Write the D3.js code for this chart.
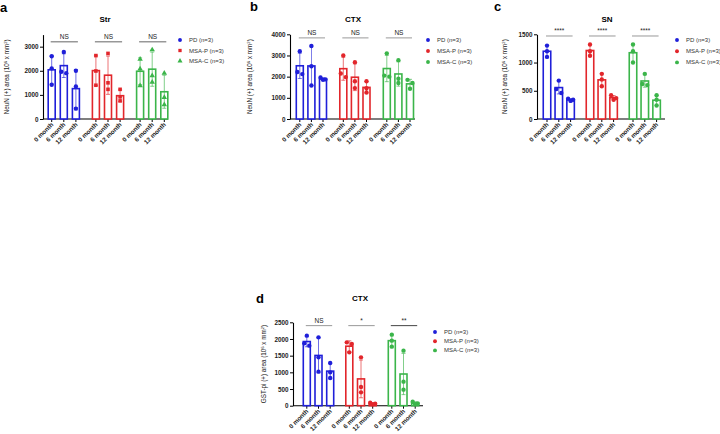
<!DOCTYPE html>
<html>
<head>
<meta charset="utf-8">
<script src="https://cdn.jsdelivr.net/npm/d3@7"></script>
<style>
  body { margin: 0; background: #fff; }
  svg { font-family: "Liberation Sans", Arial, sans-serif; }
</style>
</head>
<body>
<svg id="chart" width="720" height="434"></svg>
<script>
// groups / x categories
var groups = ["PD (n=3)", "MSA-P (n=3)", "MSA-C (n=3)"];
var months = ["0 month", "6 month", "12 month"];
var colors = ["#1f1fd9", "#e2262b", "#3bb54a"];

// individual values per group, per month (n=3)
var strValues = [
  [[2600, 2100, 1420], [2780, 1960, 1900], [2000, 1350, 430]],
  [[2630, 1990, 1400], [2720, 1500, 1230], [1230, 920, 750]],
  [[2480, 2080, 1380], [2870, 1800, 1530], [1900, 900, 590]]
];
var ctxValues = [
  [[3200, 2220, 2120], [3450, 2490, 1580], [1960, 1870, 1850]],
  [[3000, 2150, 1980], [2680, 1780, 1460], [1780, 1450, 1250]],
  [[3100, 2050, 2000], [2780, 1900, 1700], [1850, 1700, 1430]]
];
var snValues = [
  [[1300, 1200, 1100], [680, 530, 460], [360, 340, 320]],
  [[1320, 1200, 1120], [800, 700, 580], [420, 370, 340]],
  [[1320, 1200, 1000], [800, 620, 600], [420, 340, 240]]
];
var gstValues = [
  [[2100, 1870, 1800], [2050, 1450, 1020], [1280, 1000, 830]],
  [[1900, 1850, 1600], [1450, 560, 400], [90, 60, 40]],
  [[2130, 1950, 1770], [1650, 720, 480], [120, 70, 40]]
];
var strSig = ["NS", "NS", "NS"];
var ctxSig = ["NS", "NS", "NS"];
var snSig = ["****", "****", "****"];
var gstSig = ["NS", "*", "**"];

var svg = d3.select("#chart");

function stats(v) {
  return { mean: d3.mean(v), sd: d3.deviation(v) };
}

function drawPanel(cfg) {
  var g = svg.append("g");

  var y = d3.scaleLinear().domain([0, cfg.yMax]).range([cfg.baseY, cfg.topY]);

  // outer band for groups, inner band for months
  var start = cfg.x0 - cfg.step / 2;
  var gx = d3.scaleBand()
      .domain(groups)
      .range([start, start + 2 * cfg.gStep + 3 * cfg.step])
      .paddingInner((cfg.gStep - 3 * cfg.step) / cfg.gStep)
      .paddingOuter(0);
  var mx = d3.scaleBand().domain(months).range([0, gx.bandwidth()]);
  function cx(gi, mi) { return gx(groups[gi]) + mx(months[mi]) + mx.bandwidth() / 2; }

  // panel letter + title
  g.append("text").attr("x", cfg.letter[0]).attr("y", cfg.letter[1])
      .attr("font-size", 13).attr("font-weight", "bold").text(cfg.letterText);
  g.append("text").attr("x", cfg.title[0]).attr("y", cfg.title[1])
      .attr("text-anchor", "middle").attr("font-size", 8).attr("font-weight", "bold")
      .text(cfg.titleText);

  // y label
  var yl = g.append("text")
      .attr("transform", "translate(" + cfg.yLabelX + "," + ((cfg.baseY + cfg.topY) / 2) + ") rotate(-90)")
      .attr("text-anchor", "middle").attr("font-size", 6.3).attr("fill", "#222");
  yl.append("tspan").text(cfg.yLabel + " area (10");
  yl.append("tspan").attr("font-size", 4.2).attr("dy", -2.5).text("6");
  yl.append("tspan").attr("dy", 2.5).text(" x mm");
  yl.append("tspan").attr("font-size", 4.2).attr("dy", -2.5).text("2");
  yl.append("tspan").attr("dy", 2.5).text(")");

  // y axis
  var ya = g.append("g")
      .attr("transform", "translate(" + cfg.axisX + ",0)")
      .call(d3.axisLeft(y).tickValues(cfg.ticks).tickSize(3).tickSizeOuter(0).tickPadding(1.5)
        .tickFormat(d3.format("d")));
  ya.select(".domain").attr("stroke-width", 1.1);
  ya.selectAll("text").attr("font-size", 6.3).attr("font-weight", "bold").attr("fill", "#222")
      .attr("font-family", "Liberation Sans, Arial, sans-serif");

  // x axis line + ticks + rotated labels
  g.append("line").attr("x1", cfg.axisX).attr("x2", cfg.axisEnd)
      .attr("y1", cfg.baseY).attr("y2", cfg.baseY).attr("stroke", "#000").attr("stroke-width", 1.1);

  cfg.data.forEach(function(grp, gi) {
    grp.forEach(function(vals, mi) {
      var c = cx(gi, mi);
      g.append("line").attr("x1", c).attr("x2", c).attr("y1", cfg.baseY).attr("y2", cfg.baseY + 3)
          .attr("stroke", "#000").attr("stroke-width", 1);
      g.append("text")
          .attr("transform", "translate(" + (c + 2) + "," + (cfg.baseY + 6) + ") rotate(-45)")
          .attr("text-anchor", "end").attr("font-size", 6.3).attr("font-weight", "bold")
          .attr("fill", "#222").text(months[mi]);
    });
  });

  // bars, error bars, points
  var bw = cfg.barW;
  cfg.data.forEach(function(grp, gi) {
    var col = colors[gi];
    var shape = cfg.shapes[gi];
    grp.forEach(function(vals, mi) {
      var s = stats(vals);
      var c = cx(gi, mi);
      g.append("rect")
          .attr("x", c - bw / 2).attr("y", y(s.mean))
          .attr("width", bw).attr("height", cfg.baseY - y(s.mean))
          .attr("fill", "#fff").attr("stroke", col).attr("stroke-width", 1.6);

      var lo = Math.max(0, s.mean - s.sd), hi = s.mean + s.sd;
      g.append("line").attr("x1", c).attr("x2", c).attr("y1", y(lo)).attr("y2", y(hi))
          .attr("stroke", col).attr("stroke-width", 0.8).attr("opacity", 0.8);
      [lo, hi].forEach(function(v) {
        g.append("line").attr("x1", c - 2).attr("x2", c + 2).attr("y1", y(v)).attr("y2", y(v))
            .attr("stroke", col).attr("stroke-width", 0.8).attr("opacity", 0.8);
      });

      // dodge points that sit on top of each other
      var off = [0, 0, 0];
      for (var i = 0; i < vals.length; i++) {
        for (var j = i + 1; j < vals.length; j++) {
          if (Math.abs(y(vals[i]) - y(vals[j])) < 4 && off[i] === 0 && off[j] === 0) {
            off[i] = -2.5; off[j] = 2.5;
          }
        }
      }
      vals.forEach(function(v, k) {
        g.append("path")
            .attr("transform", "translate(" + (c + off[k]) + "," + y(v) + ")")
            .attr("d", d3.symbol().type(shape).size(shape === d3.symbolCircle ? 15 : 13)())
            .attr("fill", col);
      });
    });

    // significance bar per group
    var x1 = cx(gi, 0) - 1, x2 = cx(gi, 2) + 2;
    var ly = y(cfg.sigLevel);
    g.append("line").attr("x1", x1).attr("x2", x2).attr("y1", ly).attr("y2", ly)
        .attr("stroke", cfg.sigColor[gi]).attr("stroke-width", 1);
    g.append("text").attr("x", (x1 + x2) / 2).attr("y", ly - 2.5)
        .attr("text-anchor", "middle").attr("font-size", 6.5).attr("fill", "#222")
        .text(cfg.sig[gi]);
  });

  // legend
  groups.forEach(function(name, gi) {
    var ly = cfg.legend[1] + gi * cfg.legendGap;
    var shape = cfg.shapes[gi];
    g.append("path")
        .attr("transform", "translate(" + cfg.legend[0] + "," + ly + ")")
        .attr("d", d3.symbol().type(shape).size(shape === d3.symbolCircle ? 12 : 11)())
        .attr("fill", colors[gi]);
    g.append("text").attr("x", cfg.legend[0] + 9).attr("y", ly + 2)
        .attr("font-size", 6).attr("fill", "#333").text(name);
  });
}

var circles = [d3.symbolCircle, d3.symbolCircle, d3.symbolCircle];

drawPanel({
  data: strValues, sig: strSig, letterText: "a", titleText: "Str", yLabel: "NeuN (+)",
  axisX: 43, axisEnd: 168, baseY: 119, topY: 34.6, yMax: 3500, ticks: [0, 1000, 2000, 3000],
  x0: 51.7, step: 12.1, gStep: 44.2, barW: 7,
  letter: [0, 12], title: [105, 22], yLabelX: 9,
  legend: [180, 40], legendGap: 10.5, sigLevel: 3200, sigColor: ["#666", "#666", "#666"],
  shapes: [d3.symbolCircle, d3.symbolSquare, d3.symbolTriangle]
});

drawPanel({
  data: ctxValues, sig: ctxSig, letterText: "b", titleText: "CTX", yLabel: "NeuN (+)",
  axisX: 290, axisEnd: 415, baseY: 119, topY: 34.3, yMax: 4000, ticks: [0, 1000, 2000, 3000, 4000],
  x0: 299.8, step: 11.6, gStep: 43.5, barW: 7,
  letter: [250, 11], title: [353, 22], yLabelX: 252,
  legend: [428, 40], legendGap: 11, sigLevel: 3830, sigColor: ["#999", "#999", "#999"],
  shapes: circles
});

drawPanel({
  data: snValues, sig: snSig, letterText: "c", titleText: "SN", yLabel: "NeuN (+)",
  axisX: 537, axisEnd: 665, baseY: 119, topY: 34.3, yMax: 1500, ticks: [0, 500, 1000, 1500],
  x0: 547, step: 11.8, gStep: 43, barW: 7.5,
  letter: [494, 11], title: [607, 22], yLabelX: 507,
  legend: [677, 40], legendGap: 11.2, sigLevel: 1470, sigColor: ["#999", "#999", "#999"],
  shapes: circles
});

drawPanel({
  data: gstValues, sig: gstSig, letterText: "d", titleText: "CTX", yLabel: "GST-pi (+)",
  axisX: 293, axisEnd: 423, baseY: 405.7, topY: 322.3, yMax: 2500, ticks: [0, 500, 1000, 1500, 2000, 2500],
  x0: 306.8, step: 11.7, gStep: 42.5, barW: 7,
  letter: [256, 303], title: [360, 301], yLabelX: 266,
  legend: [435, 332], legendGap: 9.2, sigLevel: 2400, sigColor: ["#999", "#999", "#444"],
  shapes: circles
});
</script>
</body>
</html>
